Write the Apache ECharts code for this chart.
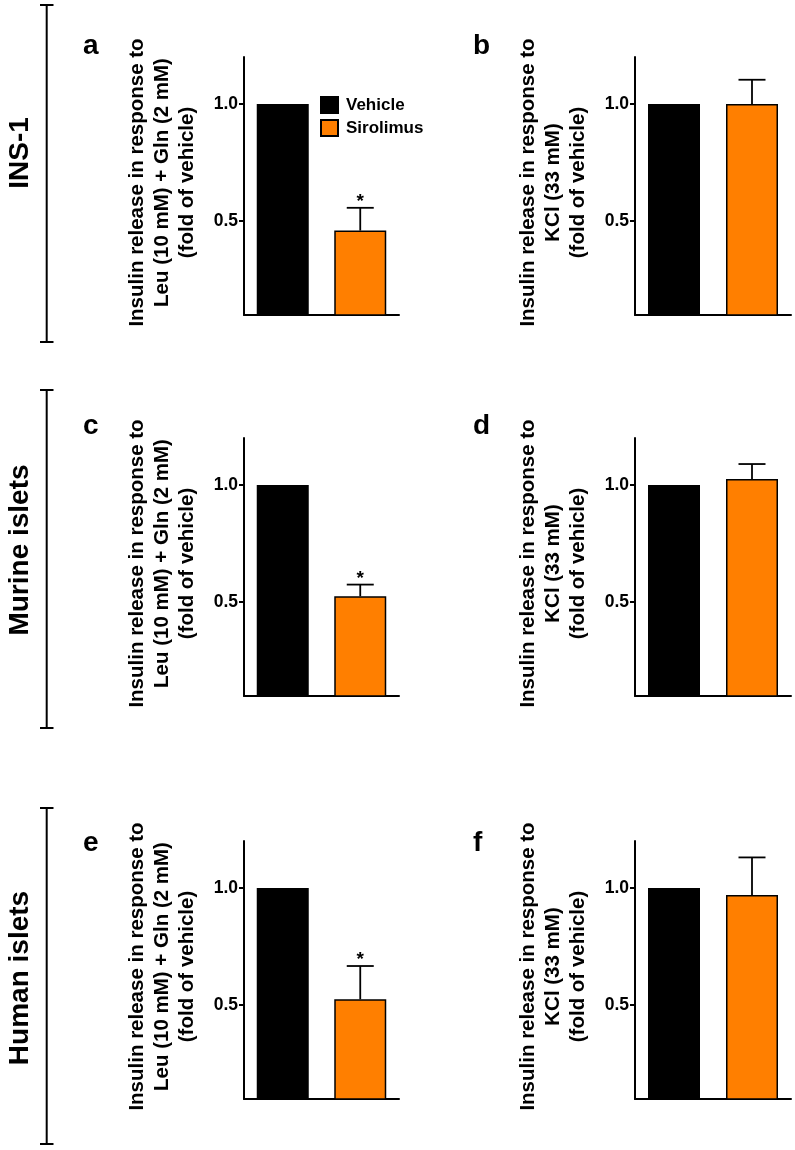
<!DOCTYPE html>
<html>
<head>
<meta charset="utf-8">
<script src="https://cdn.jsdelivr.net/npm/echarts@6/dist/echarts.min.js"></script>
<style>
html,body{margin:0;padding:0;background:#fff;}
#chart{width:795px;height:1150px;}
</style>
</head>
<body>
<div id="chart"></div>
<script>
// ---- data ----
const categories = ['Vehicle', 'Sirolimus'];
const panelLetters = ['a', 'b', 'c', 'd', 'e', 'f'];
const vehicleValues = [1.0, 1.0, 1.0, 1.0, 1.0, 1.0];
const sirolimusValues = [0.46, 1.0, 0.525, 1.025, 0.525, 0.97];
const sirolimusErrors = [0.097, 0.103, 0.05, 0.064, 0.142, 0.16];
const significant = [true, false, true, false, true, false];
const yTickValues = [0.5, 1.0];
const yMin = 0.1;
const yMax = 1.2;
const leuTitle = 'Insulin release in response to\nLeu (10 mM) + Gln (2 mM)\n(fold of vehicle)';
const kclTitle = 'Insulin release in response to\nKCl (33 mM)\n(fold of vehicle)';
const panelTitles = [leuTitle, kclTitle, leuTitle, kclTitle, leuTitle, kclTitle];
const rowLabels = ['INS-1', 'Murine islets', 'Human islets'];

// ---- layout ----
const FONT = "'Liberation Sans', Arial, Helvetica, sans-serif";
const ORANGE = '#ff7f00';
const colLeft = [244, 635];
const colWidth = [155, 156];
const rowTop = [57, 438, 841];
const gridHeight = 258;
const brackets = [[5, 342], [390, 728], [808, 1144]];
const rowLabelY = [153, 550, 978];
const letterX = [83, 473];
const letterBaseline = [32, 412, 829];

const grids = [], xAxes = [], yAxes = [], series = [], graphics = [];

panelLetters.forEach((letter, i) => {
  const col = i % 2, row = Math.floor(i / 2);
  grids.push({ left: colLeft[col], top: rowTop[row], width: colWidth[col], height: gridHeight, containLabel: false });
  xAxes.push({
    type: 'category', gridIndex: i, data: categories,
    axisLine: { lineStyle: { color: '#000', width: 2 } },
    axisTick: { show: false }, axisLabel: { show: false }, splitLine: { show: false }
  });
  yAxes.push({
    type: 'value', gridIndex: i, min: yMin, max: yMax,
    name: panelTitles[i], nameLocation: 'middle', nameRotate: 90, nameGap: 44,
    nameTextStyle: { fontFamily: FONT, fontWeight: 'bold', fontSize: 20.5, lineHeight: 25, color: '#000', padding: [0, 0, 0, 7] },
    axisLine: { show: true, lineStyle: { color: '#000', width: 2 } },
    axisTick: { show: true, length: 5, lineStyle: { color: '#000', width: 2 }, customValues: yTickValues },
    axisLabel: { fontFamily: FONT, fontWeight: 'bold', fontSize: 17.5, color: '#000', margin: 6,
      customValues: yTickValues, formatter: v => Number(v).toFixed(1) },
    splitLine: { show: false }
  });
  series.push({
    name: 'Vehicle', type: 'bar', xAxisIndex: i, yAxisIndex: i,
    data: [vehicleValues[i], '-'], barWidth: 52, barGap: '-100%',
    itemStyle: { color: '#000', borderColor: '#000', borderWidth: 1.5 },
    emphasis: { disabled: true }, z: 2
  });
  series.push({
    name: 'Sirolimus', type: 'bar', xAxisIndex: i, yAxisIndex: i,
    data: ['-', sirolimusValues[i]], barWidth: 52, barGap: '-100%',
    itemStyle: { color: ORANGE, borderColor: '#000', borderWidth: 1.5 },
    emphasis: { disabled: true }, z: 2
  });
  series.push({
    type: 'custom', xAxisIndex: i, yAxisIndex: i, z: 3,
    data: [[1, sirolimusValues[i], sirolimusErrors[i], significant[i] ? 1 : 0]],
    renderItem: function (params, api) {
      const x = api.value(0), v = api.value(1), e = api.value(2), s = api.value(3);
      const base = api.coord([x, v]);
      const top = api.coord([x, v + e]);
      const children = [
        { type: 'line', shape: { x1: base[0], y1: base[1], x2: top[0], y2: top[1] }, style: { stroke: '#000', lineWidth: 1.8 } },
        { type: 'line', shape: { x1: top[0] - 13.5, y1: top[1], x2: top[0] + 13.5, y2: top[1] }, style: { stroke: '#000', lineWidth: 1.8 } }
      ];
      if (s) {
        children.push({ type: 'text', style: { text: '*', x: top[0], y: top[1] - 6, align: 'center', verticalAlign: 'middle',
          font: 'bold 19px ' + FONT, fill: '#000' } });
      }
      return { type: 'group', children: children };
    }
  });
  graphics.push({
    type: 'text', x: letterX[col], y: letterBaseline[row],
    style: { text: letter, font: 'bold 28px ' + FONT, fill: '#000', textAlign: 'left', textVerticalAlign: 'alphabetic' }
  });
});

rowLabels.forEach((lab, r) => {
  const [y1, y2] = brackets[r];
  graphics.push({ type: 'line', shape: { x1: 46.7, y1: y1, x2: 46.7, y2: y2 }, style: { stroke: '#000', lineWidth: 2 } });
  graphics.push({ type: 'line', shape: { x1: 40, y1: y1, x2: 53.5, y2: y1 }, style: { stroke: '#000', lineWidth: 2 } });
  graphics.push({ type: 'line', shape: { x1: 40, y1: y2, x2: 53.5, y2: y2 }, style: { stroke: '#000', lineWidth: 2 } });
  graphics.push({
    type: 'text', x: 20, y: rowLabelY[r], rotation: Math.PI / 2,
    style: { text: lab, font: 'bold 28px ' + FONT, fill: '#000', textAlign: 'center', textVerticalAlign: 'middle' }
  });
});

const chart = echarts.init(document.getElementById('chart'), null, { renderer: 'canvas' });
chart.setOption({
  backgroundColor: '#fff',
  animation: false,
  grid: grids,
  xAxis: xAxes,
  yAxis: yAxes,
  legend: {
    data: categories, orient: 'vertical', left: 320, top: 96, padding: 0,
    itemWidth: 17, itemHeight: 16, itemGap: 5, icon: 'rect',
    textStyle: { fontFamily: FONT, fontWeight: 'bold', fontSize: 17, lineHeight: 16, color: '#000', padding: [0, 0, 0, 3] },
    selectedMode: false
  },
  series: series,
  graphic: graphics
});
</script>
</body>
</html>
